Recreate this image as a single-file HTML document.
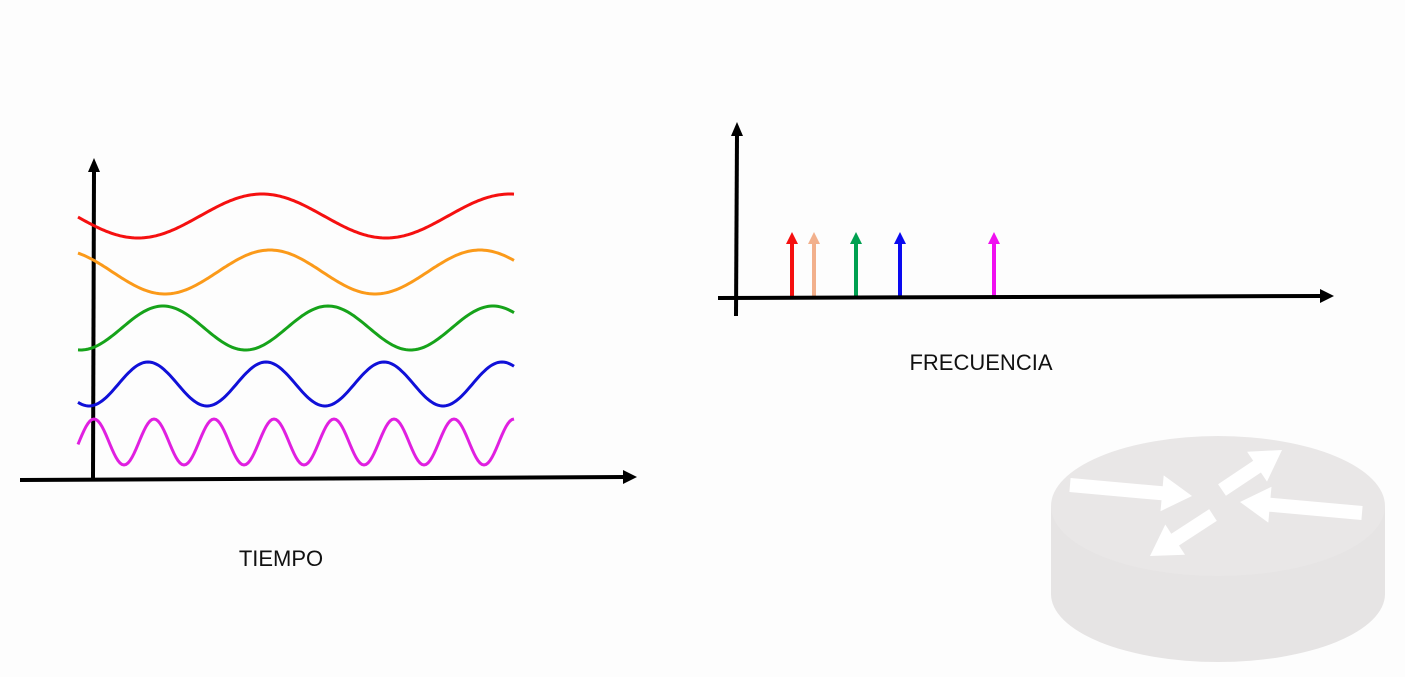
<!DOCTYPE html>
<html><head><meta charset="utf-8"><style>
body{margin:0;background:#fdfdfd;}
svg{display:block}
text{font-family:"Liberation Sans",sans-serif;}
</style></head><body>
<svg width="1405" height="677">
<g id="time-chart">
<line x1="20" y1="480" x2="625" y2="477" stroke="#000" stroke-width="4"/>
<polygon points="623,470 637,477 623,484" fill="#000"/>
<line x1="93" y1="478" x2="94" y2="170" stroke="#000" stroke-width="4"/>
<polygon points="88,172 94,158 100,172" fill="#000"/>
<g id="waves"></g>
<text x="281" y="566" font-size="22" text-anchor="middle" fill="#111">TIEMPO</text>
</g>
<g id="freq-chart">
<g id="spikes"></g>
<line x1="718" y1="298" x2="1322" y2="296" stroke="#000" stroke-width="4"/>
<polygon points="1320,289 1334,296 1320,303" fill="#000"/>
<line x1="736" y1="316" x2="737" y2="134" stroke="#000" stroke-width="4"/>
<polygon points="731,136 737,122 743,136" fill="#000"/>
<text x="981" y="370" font-size="22" text-anchor="middle" fill="#111">FRECUENCIA</text>
</g>
<g fill="#e6e4e4">
<ellipse cx="1218" cy="594" rx="167" ry="68"/>
<rect x="1051" y="506" width="334" height="88"/>
<ellipse cx="1218" cy="506" rx="167" ry="70" fill="#e9e7e7"/>
<g id="router-arrows"></g>
</g>
</svg>
<script>
// time-domain waves
const waveNames=["red","orange","green","blue","magenta"];
const waveColors=["#f51010","#fb9a1a","#16a31a","#1010d8","#e020e0"];
const wavePeriods=[248,210,165,118,60];
const wavePeakX=[262,270,163,148,94];
const waveCenters=[216,272,328,384,442];
const waveAmps=[22,22,22,22,23];
// frequency spikes
const spikeFreqs=[56,78,120,164,258];
const spikeColors=["#f51010","#f2b08c","#00a050","#0a0af0","#f010f0"];
const spikeHeights=[1,1,1,1,1];

const NS="http://www.w3.org/2000/svg";
const wg=document.getElementById('waves');
for(let i=0;i<waveNames.length;i++){
  let d="";
  for(let x=78;x<=515;x+=2){
    const y=waveCenters[i]-waveAmps[i]*Math.cos(2*Math.PI*(x-wavePeakX[i])/wavePeriods[i]);
    d+=(x===78?"M":"L")+x+","+y.toFixed(1);
  }
  const p=document.createElementNS(NS,'path');
  p.setAttribute('d',d);p.setAttribute('fill','none');
  p.setAttribute('stroke',waveColors[i]);p.setAttribute('stroke-width','3');
  
  
  wg.appendChild(p);
}
const fx=f=>736+f;
const fy=h=>297-h*55;
const sg=document.getElementById('spikes');
for(let i=0;i<spikeFreqs.length;i++){
  const x=fx(spikeFreqs[i]),yt=fy(spikeHeights[i]);
  const l=document.createElementNS(NS,'line');
  l.setAttribute('x1',x);l.setAttribute('x2',x);l.setAttribute('y1',297);l.setAttribute('y2',yt);
  l.setAttribute('stroke',spikeColors[i]);l.setAttribute('stroke-width','4');
  
  
  sg.appendChild(l);
  const h=document.createElementNS(NS,'polygon');
  h.setAttribute('points',(x-6)+","+(yt+2)+" "+x+","+(yt-10)+" "+(x+6)+","+(yt+2));
  h.setAttribute('fill',spikeColors[i]);
  
  
  sg.appendChild(h);
}
// router icon arrows (decorative)
const ra=document.getElementById('router-arrows');
[[1070,485,1192,496],[1362,513,1240,502],[1222,490,1282,450],[1213,515,1150,556]].forEach(function(a){
  const dx=a[2]-a[0],dy=a[3]-a[1],L=Math.hypot(dx,dy),ux=dx/L,uy=dy/L,nx=-uy,ny=ux;
  const hl=30,bx=a[2]-ux*hl,by=a[3]-uy*hl;
  const g=document.createElementNS(NS,'polygon');
  const pts=[[a[0]+nx*7,a[1]+ny*7],[bx+nx*7,by+ny*7],[bx+nx*18,by+ny*18],[a[2],a[3]],[bx-nx*18,by-ny*18],[bx-nx*7,by-ny*7],[a[0]-nx*7,a[1]-ny*7]];
  g.setAttribute('points',pts.map(p=>p[0].toFixed(1)+","+p[1].toFixed(1)).join(" "));
  g.setAttribute('fill','#fff');
  
  
  ra.appendChild(g);
});
</script>
</body></html>
